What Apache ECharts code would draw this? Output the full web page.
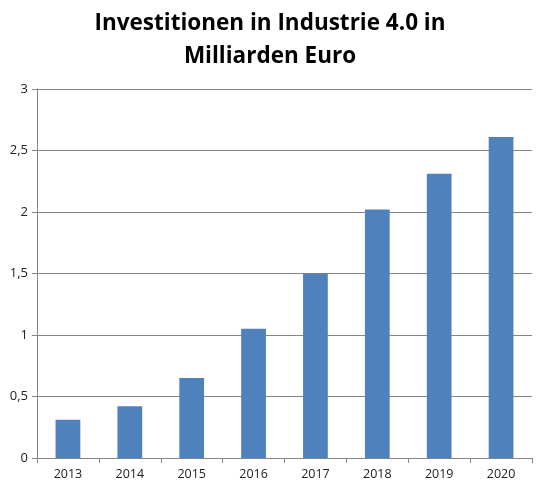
<!DOCTYPE html>
<html>
<head>
<meta charset="utf-8">
<script src="https://cdn.jsdelivr.net/npm/echarts@6/dist/echarts.min.js"></script>
<style>
  html, body { margin: 0; padding: 0; background: #fff; }
  #main { width: 540px; height: 497px; }
</style>
</head>
<body>
<div id="main"></div>
<script>
var years = ['2013', '2014', '2015', '2016', '2017', '2018', '2019', '2020'];
var investments = [0.31, 0.42, 0.65, 1.05, 1.5, 2.02, 2.31, 2.61];

var chart = echarts.init(document.getElementById('main'), null, { renderer: 'canvas' });

var option = {
  backgroundColor: '#ffffff',
  animation: false,
  title: {
    text: 'Investitionen in Industrie 4.0 in\nMilliarden Euro',
    left: 'center',
    top: 2,
    textStyle: {
      fontFamily: 'Open Sans',
      fontWeight: 'bold',
      fontSize: 22.5,
      lineHeight: 33,
      color: '#000'
    }
  },
  grid: {
    left: 37,
    right: 8,
    top: 89,
    bottom: 39
  },
  xAxis: {
    type: 'category',
    data: years,
    axisLine: { lineStyle: { color: '#868686' } },
    axisTick: { show: true, length: 5, lineStyle: { color: '#868686' } },
    axisLabel: {
      color: '#222',
      fontFamily: 'Open Sans',
      fontSize: 12.5,
      margin: 10
    }
  },
  yAxis: {
    type: 'value',
    min: 0,
    max: 3,
    interval: 0.5,
    axisLine: { show: true, lineStyle: { color: '#868686' } },
    axisTick: { show: true, length: 5, lineStyle: { color: '#868686' } },
    splitLine: { lineStyle: { color: '#868686' } },
    axisLabel: {
      color: '#222',
      fontFamily: 'Open Sans',
      fontSize: 13,
      margin: 9,
      formatter: function (v) { return String(v).replace('.', ','); }
    }
  },
  series: [{
    type: 'bar',
    data: investments,
    barWidth: '40%',
    itemStyle: { color: '#4F81BD' }
  }]
};

chart.setOption(option);
</script>
</body>
</html>
